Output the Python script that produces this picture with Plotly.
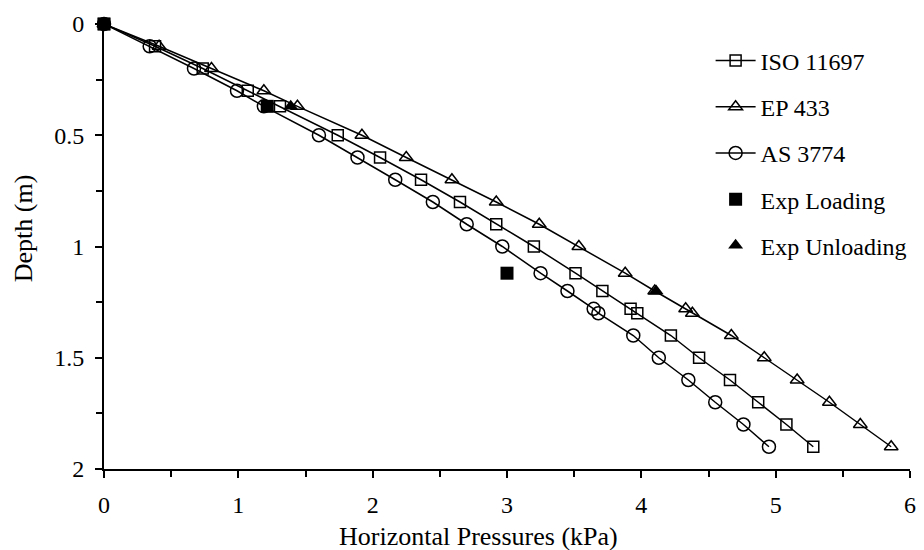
import plotly.graph_objects as go

# Depth below surface (m) at which each prediction is evaluated
depth = [0, 0.1, 0.2, 0.3, 0.37, 0.5, 0.6, 0.7, 0.8, 0.9, 1.0, 1.12, 1.2,
         1.28, 1.3, 1.4, 1.5, 1.6, 1.7, 1.8, 1.9]

# Predicted horizontal pressures (kPa)
iso_11697 = [0, 0.38, 0.735, 1.07, 1.31, 1.74, 2.055, 2.36, 2.65, 2.92, 3.2,
             3.51, 3.71, 3.92, 3.97, 4.22, 4.43, 4.66, 4.87, 5.08, 5.28]
ep_433 = [0, 0.41, 0.80, 1.19, 1.44, 1.92, 2.25, 2.59, 2.92, 3.24, 3.535,
          3.88, 4.10, 4.33, 4.38, 4.67, 4.915, 5.16, 5.40, 5.63, 5.86]
as_3774 = [0, 0.34, 0.67, 0.99, 1.19, 1.60, 1.887, 2.168, 2.448, 2.70, 2.965,
           3.25, 3.45, 3.645, 3.68, 3.94, 4.13, 4.35, 4.55, 4.76, 4.95]

# Measured pressures
exp_loading_depth = [0, 0.37, 1.12]
exp_loading = [0, 1.215, 3.0]
exp_unloading_depth = [0.37, 1.2]
exp_unloading = [1.39, 4.11]

FONT = "Liberation Serif"
BLACK = "black"

fig = go.Figure()


def model_trace(x, name, symbol, size):
    return go.Scatter(
        x=x, y=depth, name=name, mode="lines+markers", legendgroup=name,
        line=dict(color=BLACK, width=1.5),
        marker=dict(symbol=symbol, size=size, color=BLACK,
                    line=dict(color=BLACK, width=1.5)),
        cliponaxis=False,
    )


fig.add_trace(model_trace(iso_11697, "ISO 11697", "square-open", 11))
fig.add_trace(model_trace(ep_433, "EP 433", "triangle-up-open", 12))
fig.add_trace(model_trace(as_3774, "AS 3774", "circle-open", 13))
fig.add_trace(go.Scatter(
    x=exp_loading, y=exp_loading_depth, name="Exp Loading", mode="markers",
    legendgroup="Exp Loading",
    marker=dict(symbol="square", size=13, color=BLACK), cliponaxis=False))
fig.add_trace(go.Scatter(
    x=exp_unloading, y=exp_unloading_depth, name="Exp Unloading",
    mode="markers", legendgroup="Exp Unloading",
    marker=dict(symbol="triangle-up", size=13, color=BLACK), cliponaxis=False))

axis_common = dict(
    showgrid=False, zeroline=False, showline=True, linecolor=BLACK,
    linewidth=2, ticks="outside", ticklen=7, tickwidth=1.5, tickcolor=BLACK,
    tickfont=dict(family=FONT, size=24, color=BLACK),
)

fig.update_xaxes(
    range=[0, 6], tickmode="array", tickvals=[0, 1, 2, 3, 4, 5, 6],
    ticktext=["0", "1", "2", "3", "4", "5", "6"],
    minor=dict(dtick=0.5, ticks="outside", ticklen=6, tickwidth=1.5,
               tickcolor=BLACK),
    ticklabelstandoff=6,
    **axis_common,
)
fig.update_yaxes(
    range=[2, 0], tickmode="array", tickvals=[0, 0.5, 1, 1.5, 2],
    ticktext=["0", "0.5", "1", "1.5", "2"],
    minor=dict(dtick=0.25, ticks="outside", ticklen=6, tickwidth=1.5,
               tickcolor=BLACK),
    ticklabelstandoff=6,
    **axis_common,
)

fig.add_annotation(
    text="Horizontal Pressures (kPa)", xref="paper", yref="paper",
    x=(481 - 103.5) / (916 - 103.5), y=-(537 - 469.5) / (469.5 - 23.5),
    xanchor="center", yanchor="middle", showarrow=False,
    font=dict(family=FONT, size=26, color=BLACK))
fig.add_annotation(
    text="Depth (m)", xref="paper", yref="paper", textangle=-90,
    x=-(103.5 - 22) / (916 - 103.5), y=(469.5 - 228) / (469.5 - 23.5),
    xanchor="center", yanchor="middle", showarrow=False,
    font=dict(family=FONT, size=26, color=BLACK))

fig.update_layout(
    width=924, height=550,
    margin=dict(l=103.5, r=8, t=23.5, b=80.5),
    paper_bgcolor="white", plot_bgcolor="white",
    showlegend=True,
    legend=dict(
        x=(715 - 103.5) / (916 - 103.5), y=(469.5 - 38) / (469.5 - 23.5),
        xanchor="left", yanchor="top",
        font=dict(family=FONT, size=24, color=BLACK),
        bgcolor="rgba(0,0,0,0)", borderwidth=0,
        tracegroupgap=12, itemwidth=40,
    ),
)

fig.write_html("out.html")
